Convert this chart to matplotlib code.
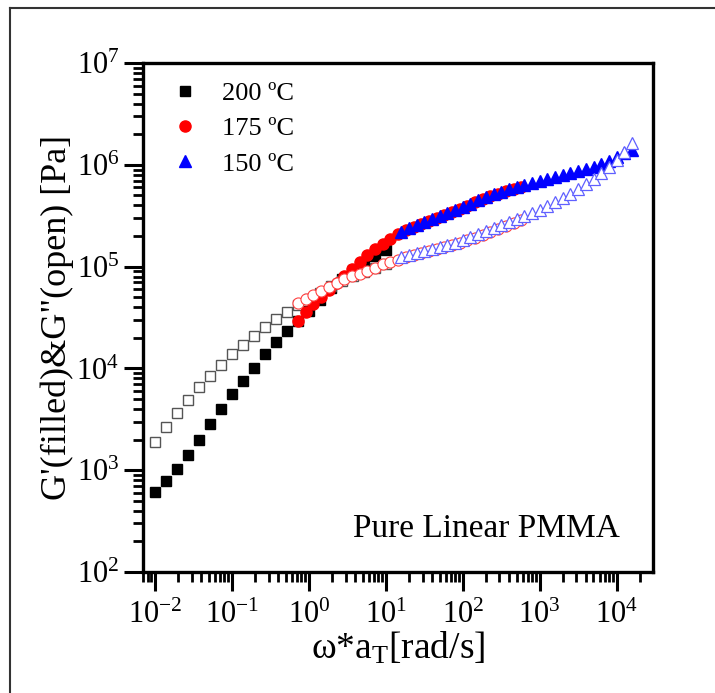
import numpy as np
import matplotlib.pyplot as plt
from matplotlib.lines import Line2D
from matplotlib.ticker import LogLocator, NullFormatter

plt.rcParams['font.family'] = 'Liberation Serif'
plt.rcParams['mathtext.fontset'] = 'custom'
plt.rcParams['mathtext.rm'] = 'Liberation Serif'
plt.rcParams['mathtext.it'] = 'Liberation Serif:italic'
plt.rcParams['axes.unicode_minus'] = False

x_ticks = [1e-2, 1e-1, 1e0, 1e1, 1e2, 1e3, 1e4]
y_ticks = [1e2, 1e3, 1e4, 1e5, 1e6, 1e7]

# 200 C (low frequency end of the master curve)
w_200 = [0.01, 0.0139, 0.0193, 0.0268, 0.0373, 0.0518, 0.072, 0.1, 0.139, 0.193, 0.268,
         0.373, 0.518, 0.72, 1.0, 1.39, 1.93, 2.68, 3.73, 5.18, 7.2, 10.0]
g1_200 = [615, 783, 1028, 1419, 1995, 2864, 3990, 5572, 7516, 10090, 13770, 18030, 23440,
          29510, 36310, 46800, 61700, 75900, 93300, 107000, 126000, 145000]
g2_200 = [1892, 2673, 3622, 4898, 6607, 8472, 10790, 13770, 16980, 20800, 25350, 30340, 35810,
          41690, 47860, 55000, 64600, 72400, 81300, 89100, 97700, 107000]

# 175 C
w_175 = [0.724, 0.912, 1.148, 1.445, 1.82, 2.29, 2.88, 3.63, 4.57, 5.75, 7.24, 9.12, 11.5, 14.5,
         18.2, 22.9, 28.8, 36.3, 45.7, 57.5, 72.4, 91.2, 115, 145, 182, 229, 288, 363, 457, 575]
g1_175 = [29500, 35500, 42700, 50100, 58900, 69200, 81300, 95500, 112000, 129000, 148000,
          166000, 186000, 209000, 229000, 245000, 263000, 282000, 302000, 324000, 347000,
          372000, 398000, 427000, 457000, 490000, 513000, 550000, 575000, 603000]
g2_175 = [43700, 47900, 52500, 57500, 63100, 69200, 75900, 81300, 85100, 91200, 97700,
          105000, 112000, 117000, 123000, 129000, 135000, 141000, 148000, 155000, 162000,
          170000, 182000, 191000, 204000, 219000, 234000, 251000, 269000, 288000]

# 150 C
w_150 = [15.8, 19.9, 25.1, 31.6, 39.8, 50.1, 63.1, 79.4, 100, 126, 158, 200, 251, 316, 398,
         501, 631, 794, 1000, 1259, 1585, 1995, 2512, 3162, 3981, 5012, 6310, 7943, 10000,
         12589, 15849]
g1_150 = [219000, 240000, 257000, 275000, 295000, 316000, 339000, 363000, 389000, 417000,
          447000, 479000, 513000, 537000, 575000, 603000, 631000, 661000, 692000, 724000,
          759000, 794000, 832000, 871000, 912000, 955000, 1023000, 1096000, 1202000, 1318000,
          1413000]
g2_150 = [123000, 129000, 135000, 141000, 148000, 155000, 162000, 170000, 182000, 195000,
          209000, 224000, 240000, 257000, 275000, 295000, 316000, 339000, 363000, 398000,
          427000, 468000, 513000, 575000, 646000, 724000, 832000, 955000, 1122000, 1349000,
          1622000]

fig = plt.figure(figsize=(7.15, 6.93), dpi=100)
ax = fig.add_axes([0.2, 0.1746, 0.713, 0.7344])

# outer frame of the original figure (left and top edges)
fx, fy = 10 / 715, 1 - 8 / 693
fig.add_artist(Line2D([fx, fx], [0, fy], transform=fig.transFigure, color='#333333', lw=1.5))
fig.add_artist(Line2D([fx, 1], [fy, fy], transform=fig.transFigure, color='#333333', lw=1.5))

ax.plot(w_200, g1_200, 's', ms=6.8, color='black', mec='black', label='200 ºC')
ax.plot(w_200, g2_200, 's', ms=7, mfc='white', mec='#555555', mew=1.0)
ax.plot(w_175, g1_175, 'o', ms=8, color='red', mec='red', label='175 ºC')
ax.plot(w_175, g2_175, 'o', ms=8, mfc='white', mec='#ff4040', mew=0.8)
ax.plot(w_150, g1_150, '^', ms=8.5, color='blue', mec='blue', label='150 ºC')
ax.plot(w_150, g2_150, '^', ms=9, mfc='white', mec='#6060ff', mew=0.9)

ax.set_xscale('log')
ax.set_yscale('log')
ax.set_xlim(10 ** -2.156, 10 ** 4.47)
ax.set_ylim(1e2, 1e7)
ax.set_xticks(x_ticks)
ax.set_yticks(y_ticks)
ax.xaxis.set_minor_locator(LogLocator(base=10, subs=np.arange(2, 10), numticks=20))
ax.xaxis.set_minor_formatter(NullFormatter())
ax.yaxis.set_minor_formatter(NullFormatter())

for s in ax.spines.values():
    s.set_linewidth(2.4)
ax.tick_params(which='major', direction='out', length=14, width=2.2, labelsize=22, pad=3)
ax.tick_params(which='minor', direction='out', length=7, width=2.0)
ax.tick_params(axis='x', which='major', pad=7)

ax.set_xlabel(r'ω*a$_\mathregular{T}$[rad/s]', fontsize=27, labelpad=0)
ax.set_ylabel('G\'(filled)&G"(open) [Pa]', fontsize=26, labelpad=2)

ax.legend(loc='upper left', frameon=False, fontsize=19, handlelength=1.0, handletextpad=0.9,
          labelspacing=0.45, bbox_to_anchor=(0.02, 1.0), borderaxespad=0.3)
ax.text(0.412, 0.069, 'Pure Linear PMMA', transform=ax.transAxes, fontsize=24)

fig.savefig('out.png', dpi=100)
